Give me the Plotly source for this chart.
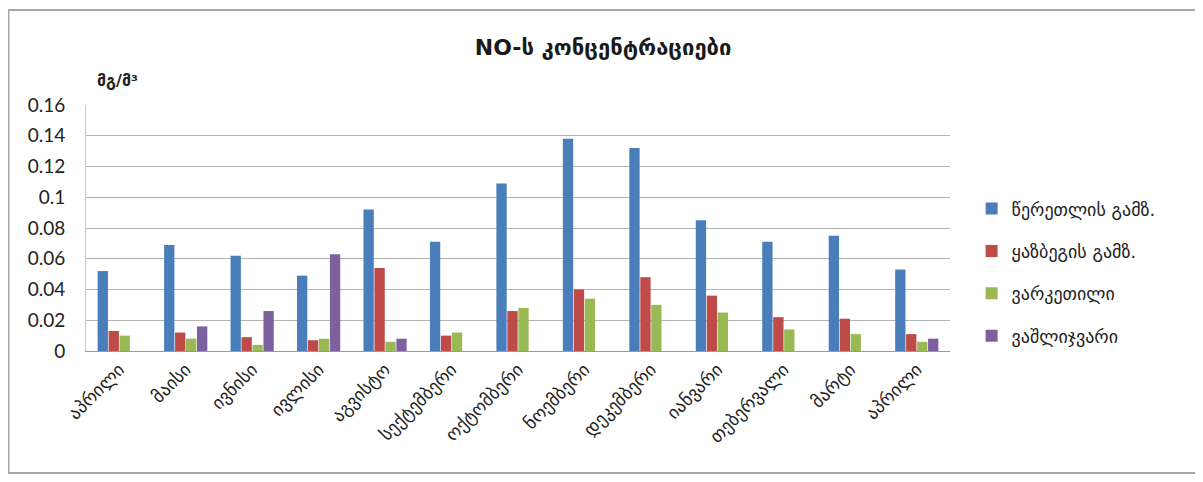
import plotly.graph_objects as go

months = ["აპრილი", "მაისი", "ივნისი", "ივლისი", "აგვისტო", "სექტემბერი", "ოქტომბერი",
          "ნოემბერი", "დეკემბერი", "იანვარი", "თებერვალი", "მარტი", "აპრილი"]

series_names = ["წერეთლის გამზ.", "ყაზბეგის გამზ.", "ვარკეთილი", "ვაშლიჯვარი"]

tsereteli = [0.052, 0.069, 0.062, 0.049, 0.092, 0.071, 0.109, 0.138, 0.132, 0.085, 0.071, 0.075, 0.053]
kazbegi = [0.013, 0.012, 0.009, 0.007, 0.054, 0.010, 0.026, 0.040, 0.048, 0.036, 0.022, 0.021, 0.011]
varketili = [0.010, 0.008, 0.004, 0.008, 0.006, 0.012, 0.028, 0.034, 0.030, 0.025, 0.014, 0.011, 0.006]
vashlijvari = [None, 0.016, 0.026, 0.063, 0.008, None, None, None, None, None, None, None, 0.008]

y_ticks = [0, 0.02, 0.04, 0.06, 0.08, 0.1, 0.12, 0.14, 0.16]
y_labels = ["0", "0.02", "0.04", "0.06", "0.08", "0.1", "0.12", "0.14", "0.16"]

colors = ["#4a7ebb", "#be4b48", "#98b954", "#7d60a0"]

geo_font = "DejaVu Sans"
num_font = "Lato, DejaVu Sans"

x_pos = list(range(len(months)))

fig = go.Figure()
for name, vals, col in zip(series_names, [tsereteli, kazbegi, varketili, vashlijvari], colors):
    # one legend group per series so the gap between legend rows can be set
    fig.add_trace(go.Bar(x=x_pos, y=vals, name=name, marker_color=col,
                         marker_line_width=0, legendgroup=name))

# page body has an 8px margin, keep the figure small enough to avoid scrollbars
fig.update_layout(
    width=1195, height=466,
    margin=dict(l=78, r=253, t=97, b=123),
    paper_bgcolor="white",
    plot_bgcolor="white",
    barmode="group",
    bargap=0.34,
    bargroupgap=0.06,
    title=dict(text="<b>NO-ს კონცენტრაციები</b>", x=0.498, xanchor="center",
               y=0.916, yanchor="middle",
               font=dict(family=geo_font, size=22, color="#1a1a1a")),
    legend=dict(x=1.025, y=0.32, xanchor="left", yanchor="middle",
                font=dict(family=geo_font, size=18, color="#222"),
                tracegroupgap=16, itemwidth=30, traceorder="grouped"),
    showlegend=True,
)

fig.update_xaxes(
    tickvals=x_pos, ticktext=months, tickangle=-45,
    range=[-0.5, len(months) - 0.5],
    tickfont=dict(family=geo_font, size=18, color="#222"),
    showline=True, linecolor="#9a9a9a", linewidth=1,
    showgrid=False, ticks="",
)

fig.update_yaxes(
    range=[0, 0.16], tickvals=y_ticks, ticktext=y_labels,
    tickfont=dict(family=num_font, size=19, color="#222"),
    showgrid=True, gridcolor="#b4b4b4", gridwidth=1,
    showline=True, linecolor="#c8c8c8", linewidth=1,
    zeroline=False, ticks="", ticklabelstandoff=16,
)

# units label above the axis
fig.add_annotation(text="<b>მგ/მ³</b>", xref="paper", yref="paper",
                   x=0.01, y=1.10, xanchor="left", yanchor="middle",
                   showarrow=False,
                   font=dict(family=geo_font, size=16, color="#222"))

# chart frame
fig.add_shape(type="rect", xref="paper", yref="paper",
              x0=-0.0897, x1=1.287, y0=-0.496, y1=1.386,
              line=dict(color="#a6a6a6", width=2), fillcolor="rgba(0,0,0,0)",
              layer="below")

fig.write_html("out.html")
